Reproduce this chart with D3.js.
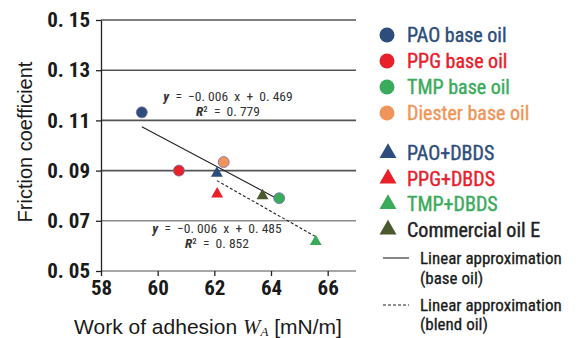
<!DOCTYPE html>
<html>
<head>
<meta charset="utf-8">
<script src="https://cdn.jsdelivr.net/npm/d3@7"></script>
<style>
  body { margin: 0; background: #fff; }
  svg { display: block; }
  .narrow { font-family: "Liberation Sans Narrow", "Arial Narrow", "Roboto Condensed", "Liberation Sans", sans-serif; }
</style>
</head>
<body>
<svg id="chart" width="584" height="338"></svg>
<script>
// base oils (circles)
var baseNames = ['PAO base oil', 'PPG base oil', 'TMP base oil', 'Diester base oil'];
var baseX = [59.44, 60.75, 64.29, 62.33];
var baseY = [0.1132, 0.0900, 0.0790, 0.0934];
var baseColors = ['#2d4d7c', '#e8202a', '#3aab5b', '#f0955a'];

// blended oils (triangles)
var blendNames = ['PAO+DBDS', 'PPG+DBDS', 'TMP+DBDS', 'Commercial oil E'];
var blendX = [62.09, 62.10, 65.58, 63.70];
var blendY = [0.0889, 0.0807, 0.0617, 0.0800];
var blendColors = ['#2d4d7c', '#e8202a', '#3aab5b', '#4b5a2c'];
var blendText = ['#2d4d7c', '#e8202a', '#3aab5b', '#222'];

var xTicks = [58, 60, 62, 64, 66];
var yTicks = [0.05, 0.07, 0.09, 0.11, 0.13, 0.15];

var eqBase = ['y  =  \u22120. 006  x  +  0. 469', 'R\u00b2  =  0. 779'];
var eqBlend = ['y  =  \u22120. 006  x  +  0. 485', 'R\u00b2  =  0. 852'];

var svg = d3.select('#chart');

var x = d3.scaleLinear().domain([58, 67]).range([101, 356]);
var y = d3.scaleLinear().domain([0.05, 0.15]).range([271, 20]);

// least squares fit, drawn over the range of the points
function fit(xs, ys) {
  var mx = d3.mean(xs), my = d3.mean(ys);
  var sxy = d3.sum(xs, function(d, i) { return (d - mx) * (ys[i] - my); });
  var sxx = d3.sum(xs, function(d) { return (d - mx) * (d - mx); });
  var b = sxy / sxx;
  var ext = d3.extent(xs);
  return ext.map(function(v) { return [v, my + b * (v - mx)]; });
}

// gridlines
svg.append('g').selectAll('line')
  .data(yTicks)
  .join('line')
  .attr('x1', x(58)).attr('x2', x(67))
  .attr('y1', function(d) { return y(d); })
  .attr('y2', function(d) { return y(d); })
  .attr('stroke', function(d) { return d < 0.08 ? '#8a8a8a' : '#555'; })
  .attr('stroke-width', 1.6);

// Y axis
var yAxis = svg.append('g')
  .attr('transform', 'translate(' + x(58) + ',0)')
  .call(d3.axisLeft(y).tickValues(yTicks).tickSize(5).tickSizeOuter(0)
    .tickFormat(function(d) { return d3.format('.2f')(d).replace('.', '. '); }));
yAxis.select('.domain').attr('stroke', '#222').attr('stroke-width', 1.3);
yAxis.selectAll('.tick line').attr('stroke', '#222').attr('stroke-width', 1.3);
yAxis.selectAll('.tick text')
  .attr('class', 'narrow')
  .attr('x', -11)
  .attr('fill', '#1a1a1a')
  .style('font-size', '21px')
  .style('font-weight', 'bold');

// X axis
var xAxis = svg.append('g')
  .attr('transform', 'translate(0,' + y(0.05) + ')')
  .call(d3.axisBottom(x).tickValues(xTicks).tickSize(5).tickSizeOuter(0));
xAxis.select('.domain').remove();
xAxis.selectAll('.tick line').attr('stroke', '#222').attr('stroke-width', 1.3);
xAxis.selectAll('.tick text')
  .attr('class', 'narrow')
  .attr('y', 9)
  .attr('fill', '#1a1a1a')
  .style('font-size', '21px')
  .style('font-weight', 'bold');

// Axis titles
svg.append('text')
  .attr('transform', 'translate(32,142) rotate(-90)')
  .attr('text-anchor', 'middle')
  .attr('fill', '#1a1a1a')
  .style('font-family', 'Liberation Sans, Arial, sans-serif')
  .style('font-size', '20px')
  .text('Friction coefficient');

var xt = svg.append('text')
  .attr('x', 208).attr('y', 334)
  .attr('text-anchor', 'middle')
  .attr('fill', '#1a1a1a')
  .style('font-family', 'Liberation Sans, Arial, sans-serif')
  .style('font-size', '21px');
xt.append('tspan').text('Work of adhesion ');
xt.append('tspan').style('font-family', 'Liberation Serif, serif').style('font-style', 'italic').text('W');
xt.append('tspan').style('font-family', 'Liberation Serif, serif').style('font-style', 'italic')
  .style('font-size', '13px').attr('dy', 2).text('A');
xt.append('tspan').attr('dy', -2).text(' [mN/m]');

// Fit lines
var line = d3.line()
  .x(function(d) { return x(d[0]); })
  .y(function(d) { return y(d[1]); });

svg.append('path')
  .datum(fit(baseX, baseY))
  .attr('fill', 'none')
  .attr('stroke', '#222')
  .attr('stroke-width', 1.1)
  .attr('d', line);

svg.append('path')
  .datum(fit(blendX, blendY))
  .attr('fill', 'none')
  .attr('stroke', '#222')
  .attr('stroke-width', 1.1)
  .attr('stroke-dasharray', '3,2')
  .attr('d', line);

// Equations
function eq(lines, cx, y0) {
  var t = svg.append('g').attr('class', 'narrow')
    .style('font-size', '13.5px').attr('fill', '#333');
  lines.forEach(function(s, i) {
    var el = t.append('text')
      .attr('x', cx).attr('y', y0 + i * 15)
      .attr('text-anchor', 'middle')
      .style('white-space', 'pre');
    var first = s.charAt(0);
    el.append('tspan').style('font-style', 'italic').style('font-weight', 'bold').text(first);
    el.append('tspan').text(s.slice(1));
  });
}
eq(eqBase, 228, 101);
eq(eqBlend, 217, 233);

// triangle symbol
var tri = d3.symbol().type(d3.symbolTriangle).size(62);

// Blend points (triangles)
svg.append('g').selectAll('path')
  .data(blendX)
  .join('path')
  .attr('d', tri)
  .attr('transform', function(d, i) { return 'translate(' + x(d) + ',' + y(blendY[i]) + ')'; })
  .attr('fill', function(d, i) { return blendColors[i]; });

// Base points (circles)
svg.append('g').selectAll('circle')
  .data(baseX)
  .join('circle')
  .attr('cx', function(d) { return x(d); })
  .attr('cy', function(d, i) { return y(baseY[i]); })
  .attr('r', 5.5)
  .attr('fill', function(d, i) { return baseColors[i]; })
  .attr('stroke', '#7b6fae')
  .attr('stroke-width', 0.8);

// Legend
var leg = svg.append('g').attr('class', 'narrow').style('font-size', '20px');
baseNames.forEach(function(n, i) {
  var yy = 35 + i * 26;
  leg.append('circle').attr('cx', 387).attr('cy', yy).attr('r', 7.5).attr('fill', baseColors[i]);
  leg.append('text').attr('x', 407).attr('y', yy + 7).attr('fill', baseColors[i])
    .attr('stroke', baseColors[i]).attr('stroke-width', 0.4).text(n);
});
blendNames.forEach(function(n, i) {
  var yy = 153 + i * 25.5;
  leg.append('path').attr('d', d3.symbol().type(d3.symbolTriangle).size(125))
    .attr('transform', 'translate(388,' + yy + ')')
    .attr('fill', blendColors[i]);
  leg.append('text').attr('x', 407).attr('y', yy + 7).attr('fill', blendText[i])
    .attr('stroke', blendText[i]).attr('stroke-width', 0.4).text(n);
});

var lg2 = svg.append('g').attr('class', 'narrow').style('font-size', '17px')
  .attr('fill', '#1a1a1a').attr('stroke', '#1a1a1a').attr('stroke-width', 0.3);
lg2.append('line').attr('x1', 383).attr('x2', 409).attr('y1', 258).attr('y2', 258)
  .attr('stroke', '#222').attr('stroke-width', 1.1);
lg2.append('text').attr('x', 420).attr('y', 264).text('Linear approximation');
lg2.append('text').attr('x', 420).attr('y', 284).text('(base oil)');
lg2.append('line').attr('x1', 383).attr('x2', 409).attr('y1', 305).attr('y2', 305)
  .attr('stroke', '#222').attr('stroke-width', 1.1).attr('stroke-dasharray', '3,2');
lg2.append('text').attr('x', 420).attr('y', 311).text('Linear approximation');
lg2.append('text').attr('x', 420).attr('y', 330).text('(blend oil)');
</script>
</body>
</html>
